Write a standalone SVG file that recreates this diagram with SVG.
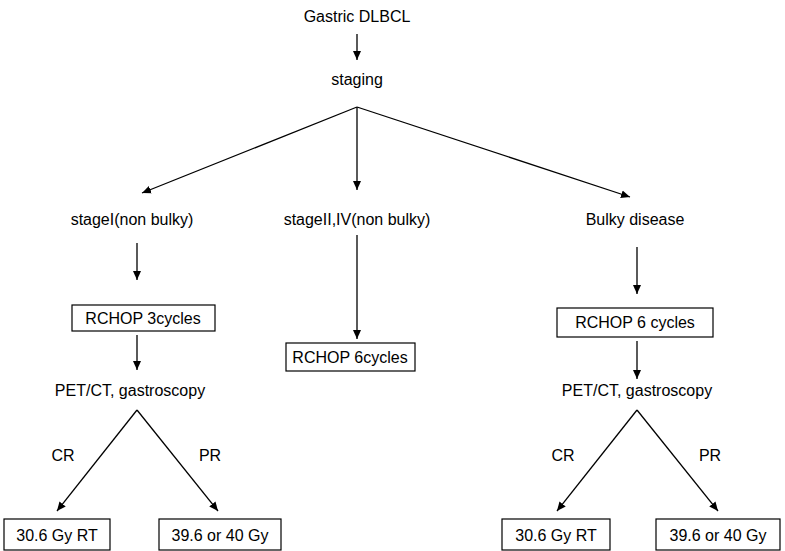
<svg xmlns="http://www.w3.org/2000/svg" width="785" height="551" viewBox="0 0 785 551">
<style>
text{font-family:"Liberation Sans",Arial,sans-serif;font-size:16px;fill:#000;text-anchor:middle}
rect{fill:#fff;stroke:#000;stroke-width:1.2}
#connectors line{stroke:#000;stroke-width:1.3;marker-end:url(#a)}
</style>
<defs><marker id="a" markerWidth="10" markerHeight="10" refX="9" refY="5" orient="auto" markerUnits="userSpaceOnUse"><path d="M0,1 L9,5 L0,9z" fill="#000"/></marker></defs>
<rect x="0" y="0" width="785" height="551" style="stroke:none"/>
<g id="connectors">
<line x1="357" y1="34" x2="357" y2="60"/>
<line x1="357" y1="107" x2="142" y2="193"/>
<line x1="357" y1="107" x2="357" y2="190"/>
<line x1="357" y1="107" x2="630" y2="197"/>
<line x1="137" y1="243" x2="137" y2="280"/>
<line x1="357" y1="235" x2="357" y2="339"/>
<line x1="637" y1="247" x2="637" y2="294"/>
<line x1="137" y1="335" x2="137" y2="370"/>
<line x1="637" y1="341" x2="637" y2="379"/>
<line x1="137" y1="410" x2="57" y2="511"/>
<line x1="137" y1="410" x2="218" y2="511"/>
<line x1="637" y1="410" x2="557" y2="511"/>
<line x1="637" y1="410" x2="718" y2="511"/>
</g>
<g id="n1"><text x="357" y="22">Gastric DLBCL</text></g>
<g id="n2"><text x="357" y="85">staging</text></g>
<g id="n3"><text x="132" y="225">stageI(non bulky)</text></g>
<g id="n4"><text x="357" y="225">stageII,IV(non bulky)</text></g>
<g id="n5"><text x="635" y="225">Bulky disease</text></g>
<g id="n6"><rect x="72" y="305" width="143" height="26"/><text x="143" y="324">RCHOP 3cycles</text></g>
<g id="n7"><rect x="286" y="343" width="129" height="28"/><text x="350" y="363">RCHOP 6cycles</text></g>
<g id="n8"><rect x="557" y="308" width="156" height="29"/><text x="635" y="328">RCHOP 6 cycles</text></g>
<g id="n9"><text x="130" y="396">PET/CT, gastroscopy</text></g>
<g id="n10"><text x="637" y="396">PET/CT, gastroscopy</text></g>
<g id="l1"><text x="63" y="461">CR</text><text x="210" y="461">PR</text><text x="563" y="461">CR</text><text x="710" y="461">PR</text></g>
<g id="n11"><rect x="4" y="519" width="106" height="31"/><text x="57" y="541">30.6 Gy RT</text></g>
<g id="n12"><rect x="159" y="519" width="122" height="31"/><text x="220" y="541">39.6 or 40 Gy</text></g>
<g id="n13"><rect x="502" y="519" width="108" height="31"/><text x="556" y="541">30.6 Gy RT</text></g>
<g id="n14"><rect x="656" y="519" width="124" height="31"/><text x="718" y="541">39.6 or 40 Gy</text></g>
</svg>
